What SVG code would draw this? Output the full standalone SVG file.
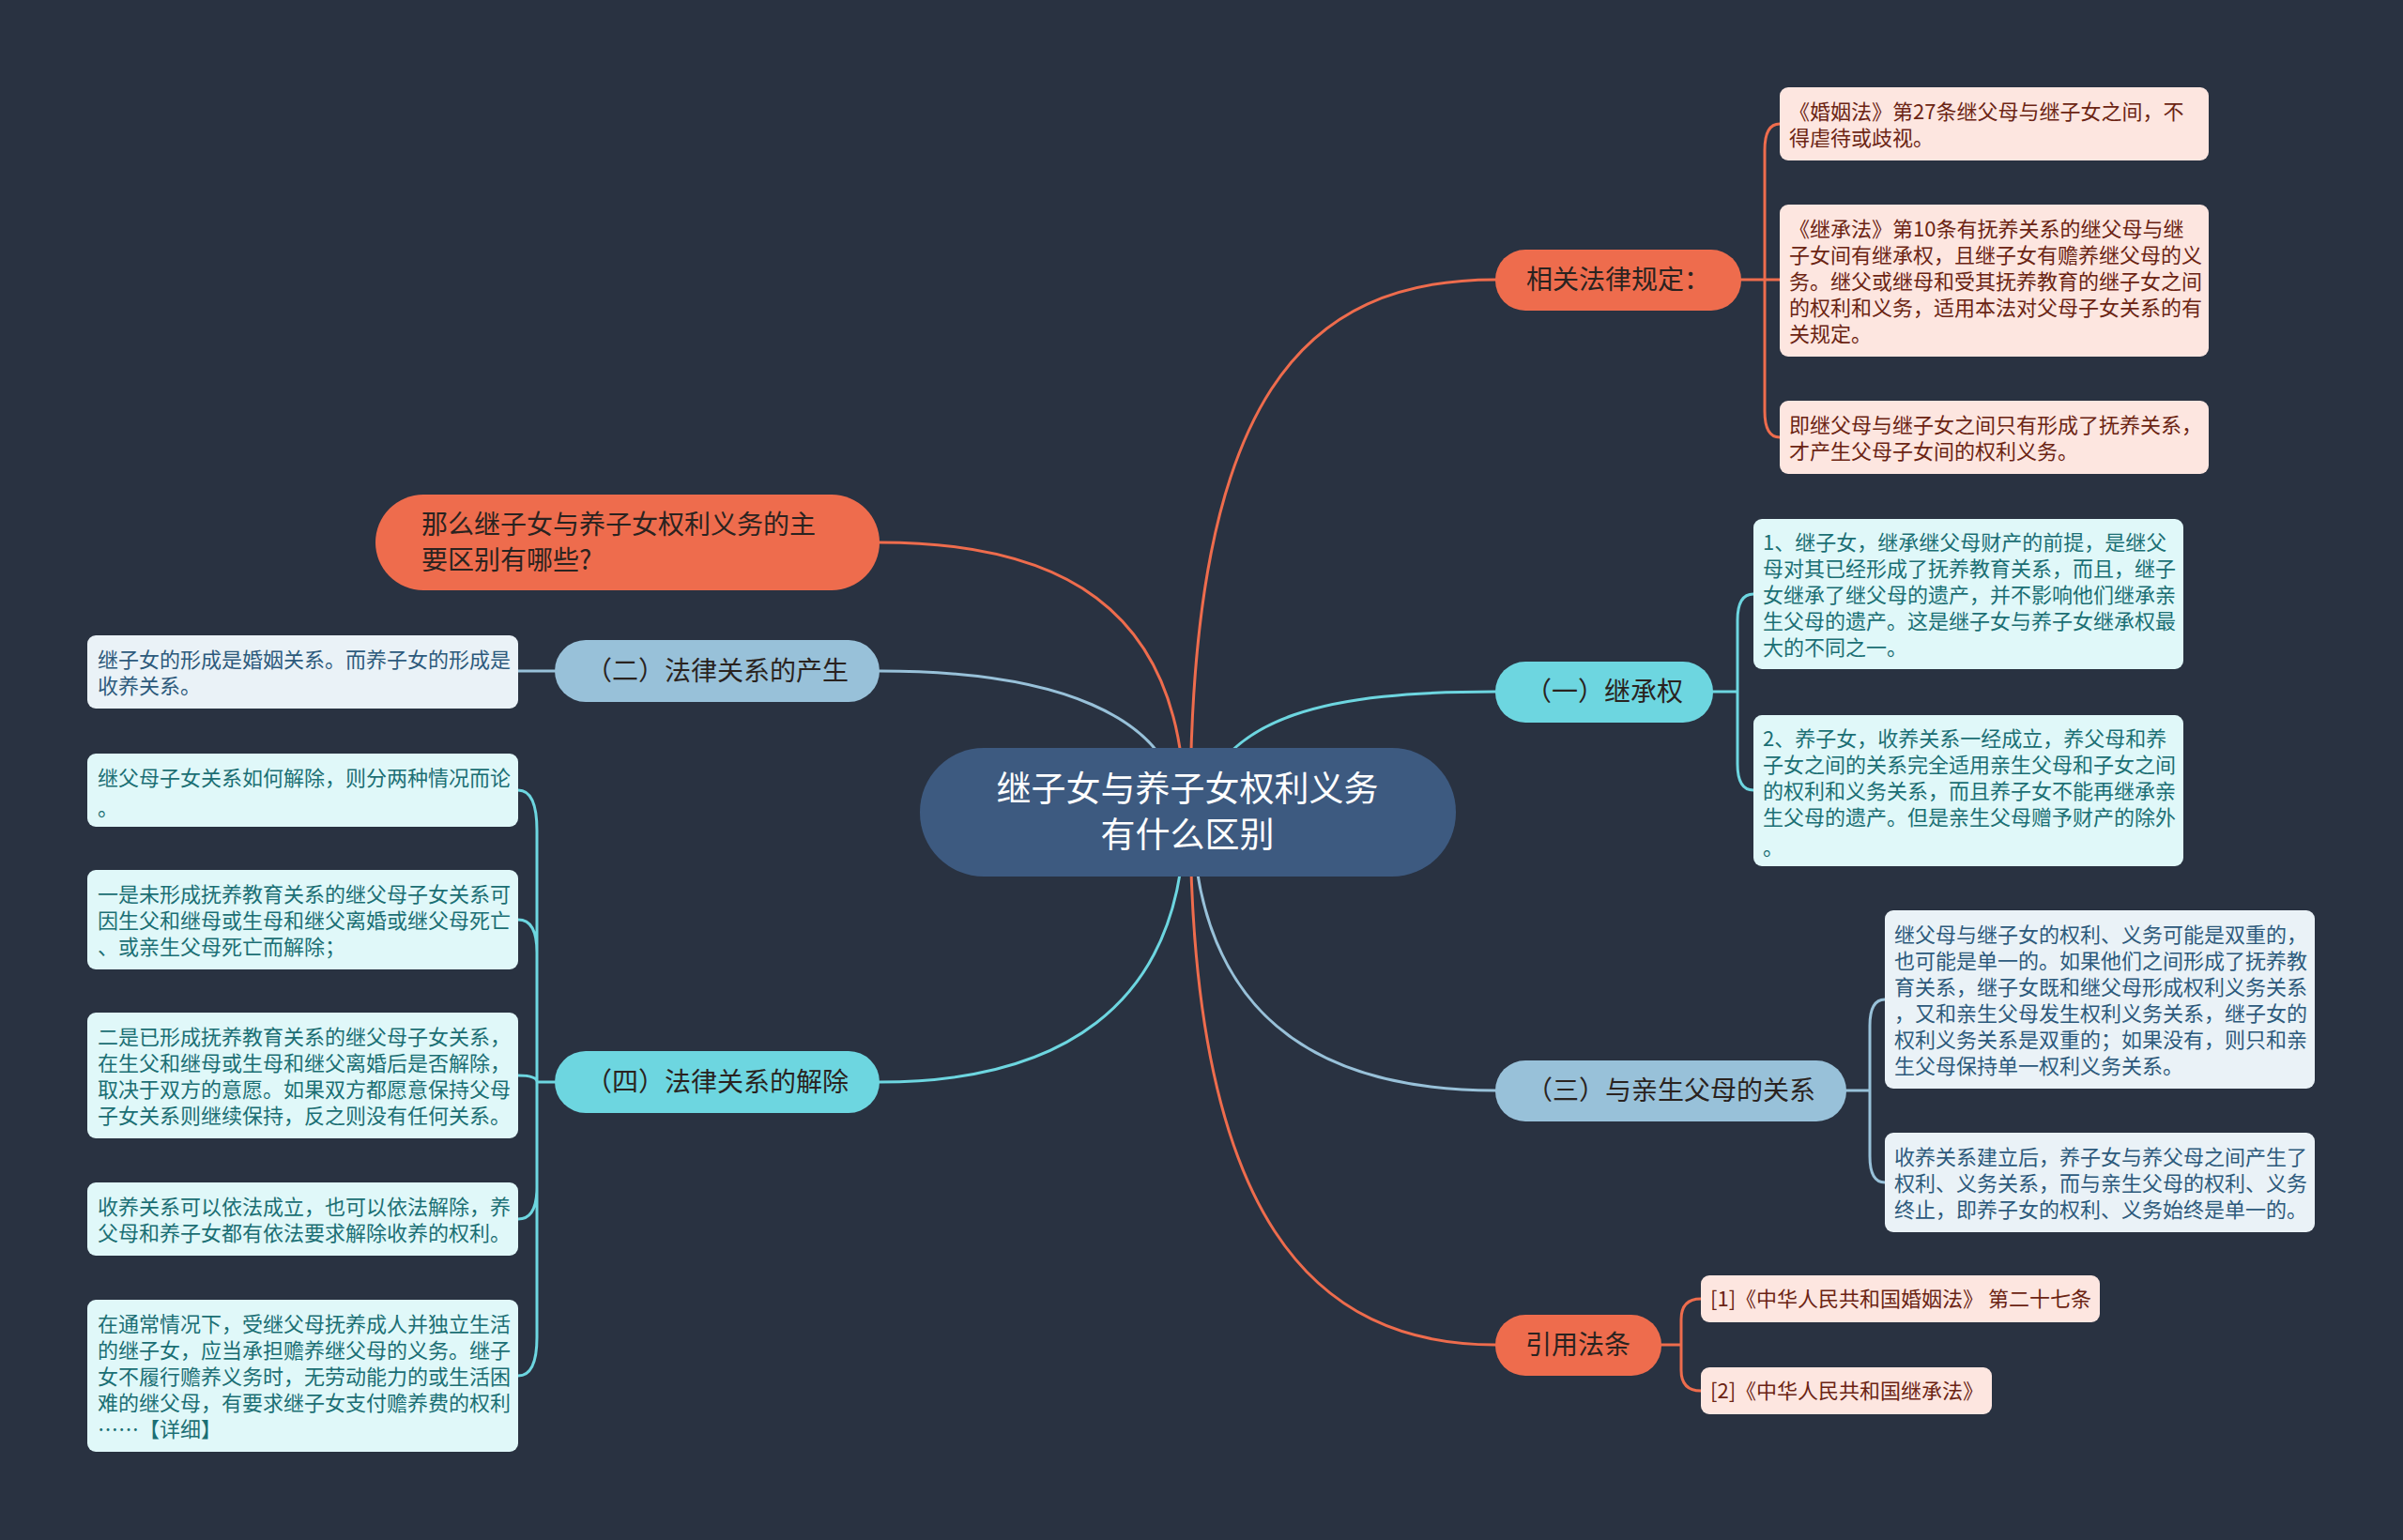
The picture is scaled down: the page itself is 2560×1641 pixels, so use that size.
<svg xmlns="http://www.w3.org/2000/svg" width="2560" height="1641" viewBox="0 0 2560 1641">
<style>
text{font-family:"Noto Sans CJK SC","Noto Sans",sans-serif}
.c{fill:none;stroke-width:3;stroke-linecap:round}
.or{stroke:#ee6c4d}.cy{stroke:#6dd6e0}.lb{stroke:#98c1d9}
.n-or{fill:#ee6c4d}.n-cy{fill:#6dd6e0}.n-lb{fill:#98c1d9}
.t1{font-size:28px;fill:#2a2320}
.t1m{font-size:28px;fill:#2a2320;text-anchor:middle}
.l-or{fill:#fde6e0}.l-cy{fill:#e0f8f9}.l-lb{fill:#eaf2f7}
.tl{font-size:22px}
.x-or{fill:#6b2413}.x-cy{fill:#1b6f74}.x-lb{fill:#2d5a7c}
</style>
<rect width="2560" height="1641" fill="#293241"/>
<g id="connectors">
<path class="c or" d="M1268,866 C1268,420 1390,298 1593,298"/>
<path class="c or" d="M1262,866 C1262,640 1120,578 937,578"/>
<path class="c lb" d="M1258,866 C1250,760 1120,715 937,715"/>
<path class="c cy" d="M1275,866 C1300,760 1420,737 1593,737"/>
<path class="c lb" d="M1270,866 C1275,1080 1400,1162 1593,1162"/>
<path class="c or" d="M1268,866 C1268,1300 1400,1433 1593,1433"/>
<path class="c cy" d="M1262,866 C1262,1080 1120,1153 937,1153"/>
<path class="c or" d="M1855,298 H1896 M1880,298 V160 Q1880,132 1896,132 M1880,298 V438 Q1880,466 1896,466"/>
<path class="c cy" d="M1825,737 H1851 M1851,737 V661 Q1851,633 1868,633 M1851,737 V814 Q1851,842 1868,842"/>
<path class="c lb" d="M1967,1162 H1992 M1992,1162 V1093 Q1992,1065 2008,1065 M1992,1162 V1232 Q1992,1260 2008,1260"/>
<path class="c or" d="M1770,1433 H1791 M1791,1433 V1406 Q1791,1384 1812,1384 M1791,1433 V1460 Q1791,1482 1812,1482"/>
<path class="c lb" d="M591,715 L552,715"/>
<path class="c cy" d="M591,1153 H572 M572,1153 V885 Q572,842 552,842 M572,1153 V1015 Q572,980 552,980 M572,1153 Q572,1146 552,1146 M572,1153 V1265 Q572,1299 552,1299 M572,1153 V1425 Q572,1466 552,1466"/>
</g>
<g id="center">
<rect x="980" y="797" width="571" height="137" rx="68" fill="#3d5a80"/>
<text x="1265" y="854" font-size="37" fill="#ffffff" text-anchor="middle">继子女与养子女权利义务</text>
<text x="1265" y="903" font-size="37" fill="#ffffff" text-anchor="middle">有什么区别</text>
</g>
<g id="n-law">
<rect class="n-or" x="1593" y="266" width="262" height="65" rx="32"/>
<text class="t1m" x="1724" y="308">相关法律规定：</text>
</g>
<g id="n-inherit">
<rect class="n-cy" x="1593" y="705" width="232" height="65" rx="32"/>
<text class="t1m" x="1709" y="747">（一）继承权</text>
</g>
<g id="n-birth">
<rect class="n-lb" x="1593" y="1130" width="374" height="65" rx="32"/>
<text class="t1m" x="1780" y="1172">（三）与亲生父母的关系</text>
</g>
<g id="n-cite">
<rect class="n-or" x="1593" y="1401" width="177" height="65" rx="32"/>
<text class="t1m" x="1681" y="1443">引用法条</text>
</g>
<g id="n-question">
<rect class="n-or" x="400" y="527" width="537" height="102" rx="51"/>
<text class="t1" x="449" y="569">那么继子女与养子女权利义务的主</text>
<text class="t1" x="449" y="607">要区别有哪些?</text>
</g>
<g id="n-origin">
<rect class="n-lb" x="591" y="682" width="346" height="66" rx="33"/>
<text class="t1m" x="764" y="725">（二）法律关系的产生</text>
</g>
<g id="n-dissolve">
<rect class="n-cy" x="591" y="1120" width="346" height="66" rx="33"/>
<text class="t1m" x="764" y="1163">（四）法律关系的解除</text>
</g>
<g id="leaf-law1">
<rect class="l-or" x="1896" y="93" width="457" height="78" rx="9"/>
<text class="tl x-or"><tspan x="1906" y="127">《婚姻法》第27条继父母与继子女之间，不</tspan><tspan x="1906" y="155">得虐待或歧视。</tspan></text>
</g>
<g id="leaf-law2">
<rect class="l-or" x="1896" y="218" width="457" height="162" rx="9"/>
<text class="tl x-or"><tspan x="1906" y="252">《继承法》第10条有抚养关系的继父母与继</tspan><tspan x="1906" y="280">子女间有继承权，且继子女有赡养继父母的义</tspan><tspan x="1906" y="308">务。继父或继母和受其抚养教育的继子女之间</tspan><tspan x="1906" y="336">的权利和义务，适用本法对父母子女关系的有</tspan><tspan x="1906" y="364">关规定。</tspan></text>
</g>
<g id="leaf-law3">
<rect class="l-or" x="1896" y="427" width="457" height="78" rx="9"/>
<text class="tl x-or"><tspan x="1906" y="461">即继父母与继子女之间只有形成了抚养关系，</tspan><tspan x="1906" y="489">才产生父母子女间的权利义务。</tspan></text>
</g>
<g id="leaf-inherit1">
<rect class="l-cy" x="1868" y="553" width="458" height="160" rx="9"/>
<text class="tl x-cy"><tspan x="1878" y="586">1、继子女，继承继父母财产的前提，是继父</tspan><tspan x="1878" y="614">母对其已经形成了抚养教育关系，而且，继子</tspan><tspan x="1878" y="642">女继承了继父母的遗产，并不影响他们继承亲</tspan><tspan x="1878" y="670">生父母的遗产。这是继子女与养子女继承权最</tspan><tspan x="1878" y="698">大的不同之一。</tspan></text>
</g>
<g id="leaf-inherit2">
<rect class="l-cy" x="1868" y="762" width="458" height="161" rx="9"/>
<text class="tl x-cy"><tspan x="1878" y="795">2、养子女，收养关系一经成立，养父母和养</tspan><tspan x="1878" y="823">子女之间的关系完全适用亲生父母和子女之间</tspan><tspan x="1878" y="851">的权利和义务关系，而且养子女不能再继承亲</tspan><tspan x="1878" y="879">生父母的遗产。但是亲生父母赠予财产的除外</tspan><tspan x="1878" y="911">。</tspan></text>
</g>
<g id="leaf-birth1">
<rect class="l-lb" x="2008" y="970" width="458" height="190" rx="9"/>
<text class="tl x-lb"><tspan x="2018" y="1004">继父母与继子女的权利、义务可能是双重的，</tspan><tspan x="2018" y="1032">也可能是单一的。如果他们之间形成了抚养教</tspan><tspan x="2018" y="1060">育关系，继子女既和继父母形成权利义务关系</tspan><tspan x="2018" y="1088">，又和亲生父母发生权利义务关系，继子女的</tspan><tspan x="2018" y="1116">权利义务关系是双重的；如果没有，则只和亲</tspan><tspan x="2018" y="1144">生父母保持单一权利义务关系。</tspan></text>
</g>
<g id="leaf-birth2">
<rect class="l-lb" x="2008" y="1207" width="458" height="106" rx="9"/>
<text class="tl x-lb"><tspan x="2018" y="1241">收养关系建立后，养子女与养父母之间产生了</tspan><tspan x="2018" y="1269">权利、义务关系，而与亲生父母的权利、义务</tspan><tspan x="2018" y="1297">终止，即养子女的权利、义务始终是单一的。</tspan></text>
</g>
<g id="leaf-cite1">
<rect class="l-or" x="1812" y="1359" width="425" height="50" rx="9"/>
<text class="tl x-or" x="1822" y="1392">[1]《中华人民共和国婚姻法》 第二十七条</text>
</g>
<g id="leaf-cite2">
<rect class="l-or" x="1812" y="1457" width="310" height="50" rx="9"/>
<text class="tl x-or" x="1822" y="1490">[2]《中华人民共和国继承法》</text>
</g>
<g id="leaf-origin">
<rect class="l-lb" x="93" y="677" width="459" height="78" rx="9"/>
<text class="tl x-lb"><tspan x="104" y="711">继子女的形成是婚姻关系。而养子女的形成是</tspan><tspan x="104" y="739">收养关系。</tspan></text>
</g>
<g id="leaf-dis1">
<rect class="l-cy" x="93" y="803" width="459" height="78" rx="9"/>
<text class="tl x-cy"><tspan x="104" y="837">继父母子女关系如何解除，则分两种情况而论</tspan><tspan x="104" y="869">。</tspan></text>
</g>
<g id="leaf-dis2">
<rect class="l-cy" x="93" y="927" width="459" height="106" rx="9"/>
<text class="tl x-cy"><tspan x="104" y="961">一是未形成抚养教育关系的继父母子女关系可</tspan><tspan x="104" y="989">因生父和继母或生母和继父离婚或继父母死亡</tspan><tspan x="104" y="1017">、或亲生父母死亡而解除；</tspan></text>
</g>
<g id="leaf-dis3">
<rect class="l-cy" x="93" y="1079" width="459" height="134" rx="9"/>
<text class="tl x-cy"><tspan x="104" y="1113">二是已形成抚养教育关系的继父母子女关系，</tspan><tspan x="104" y="1141">在生父和继母或生母和继父离婚后是否解除，</tspan><tspan x="104" y="1169">取决于双方的意愿。如果双方都愿意保持父母</tspan><tspan x="104" y="1197">子女关系则继续保持，反之则没有任何关系。</tspan></text>
</g>
<g id="leaf-dis4">
<rect class="l-cy" x="93" y="1260" width="459" height="78" rx="9"/>
<text class="tl x-cy"><tspan x="104" y="1294">收养关系可以依法成立，也可以依法解除，养</tspan><tspan x="104" y="1322">父母和养子女都有依法要求解除收养的权利。</tspan></text>
</g>
<g id="leaf-dis5">
<rect class="l-cy" x="93" y="1385" width="459" height="162" rx="9"/>
<text class="tl x-cy"><tspan x="104" y="1419">在通常情况下，受继父母抚养成人并独立生活</tspan><tspan x="104" y="1447">的继子女，应当承担赡养继父母的义务。继子</tspan><tspan x="104" y="1475">女不履行赡养义务时，无劳动能力的或生活困</tspan><tspan x="104" y="1503">难的继父母，有要求继子女支付赡养费的权利</tspan><tspan x="104" y="1531">……【详细】</tspan></text>
</g>
</svg>
